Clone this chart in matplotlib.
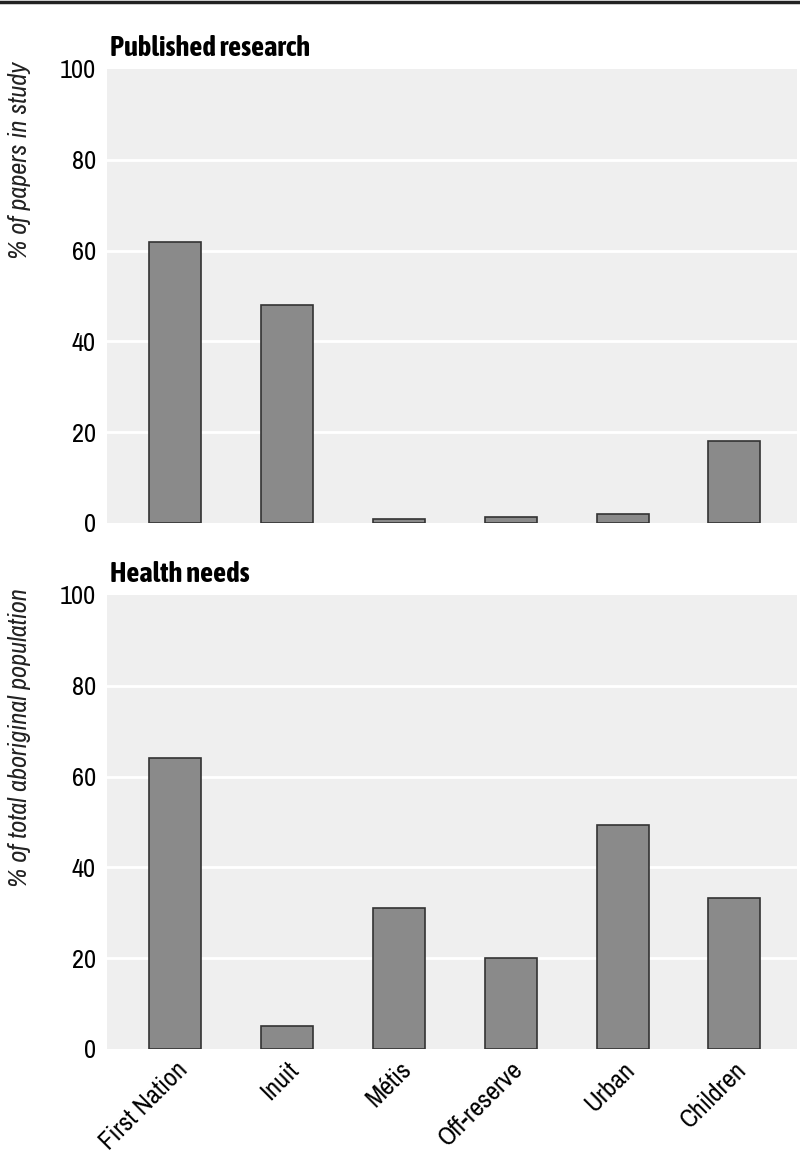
import matplotlib
matplotlib.use("Agg")
import matplotlib.pyplot as plt
from matplotlib.lines import Line2D
from matplotlib import font_manager

fl = font_manager.fontManager.ttflist

def is_bold(f):
    w = f.weight
    return (isinstance(w, int) and w >= 600) or w in ('bold', 'semibold', 'demibold', 'heavy', 'black')

narrow = {}
for f in fl:
    if ('Narrow' in f.name or 'Condensed' in f.name) and 'DejaVu' not in f.name:
        narrow.setdefault(f.name, []).append(f)

body = list(narrow)[0] if narrow else None
title_fam = None
for n, fs in narrow.items():
    if any(is_bold(f) for f in fs):
        title_fam = n
        break

if body:
    plt.rcParams['font.family'] = [body, 'DejaVu Sans']
else:
    plt.rcParams['font.family'] = ['DejaVu Sans']
    plt.rcParams['font.stretch'] = 'condensed'

title_kw = dict(fontweight='bold')
if title_fam:
    title_kw['family'] = [title_fam, 'DejaVu Sans']
else:
    title_kw['family'] = ['DejaVu Sans']
    title_kw['fontstretch'] = 'condensed'

categories = ["First Nation", "Inuit", "Métis", "Off-reserve", "Urban", "Children"]
published = [61.9, 48.0, 0.8, 1.4, 2.0, 18.1]
health = [64.1, 5.1, 31.1, 20.0, 49.3, 33.3]
yticks = [0, 20, 40, 60, 80, 100]

W, H = 800, 1154
fig = plt.figure(figsize=(W / 100, H / 100), dpi=100)

def ax_rect(x0, y_top, x1, y_bot):
    return [x0 / W, 1 - y_bot / H, (x1 - x0) / W, (y_bot - y_top) / H]

ax1 = fig.add_axes(ax_rect(107, 69, 797, 523))
ax2 = fig.add_axes(ax_rect(107, 595, 797, 1049))

FS = 19
xs = list(range(len(categories)))
for ax, vals, title in [(ax1, published, "Published research"), (ax2, health, "Health needs")]:
    ax.set_facecolor("#efefef")
    ax.bar(xs, vals, width=0.465, color="#8a8a8a", edgecolor="#333333", linewidth=1.2, zorder=3)
    ax.set_xlim(-0.61, 5.56)
    ax.set_ylim(0, 100)
    ax.set_yticks(yticks)
    ax.set_yticklabels([str(t) for t in yticks], fontsize=FS)
    for t in yticks[1:-1]:
        ax.axhline(t, color="white", linewidth=2, zorder=1)
    for s in ax.spines.values():
        s.set_visible(False)
    ax.tick_params(axis='y', length=0, pad=8)
    ax.tick_params(axis='x', length=0, pad=6)
    ax.text(0.005, 1.015, title, transform=ax.transAxes, fontsize=20.5,
            ha='left', va='bottom', **title_kw)

ax1.set_xticks([])
ax2.set_xticks(xs)
ax2.set_xticklabels(categories, rotation=45, ha='right', rotation_mode='anchor', fontsize=FS)

fig.text(20 / W, 1 - 62 / H, "% of papers in study", rotation=90, fontsize=FS,
         style='italic', ha='center', va='top', color="#222222")
fig.text(20 / W, 1 - 588 / H, "% of total aboriginal population", rotation=90, fontsize=FS,
         style='italic', ha='center', va='top', color="#222222")

fig.add_artist(Line2D([0, 1], [1 - 2 / H, 1 - 2 / H], color="#222222", linewidth=2.5,
                      transform=fig.transFigure))

fig.savefig("out.png", dpi=100)
